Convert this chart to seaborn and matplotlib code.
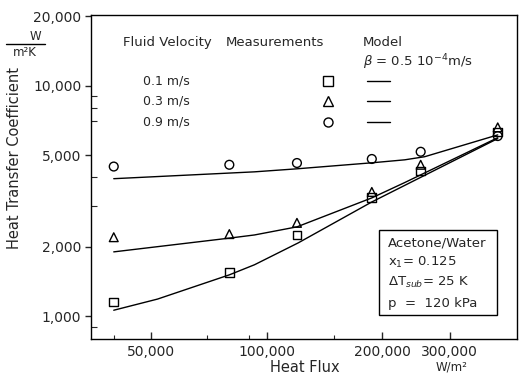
import numpy as np
import pandas as pd
import matplotlib
matplotlib.use('Agg')
import matplotlib.pyplot as plt
import matplotlib.ticker as mticker
from matplotlib.patches import Rectangle
from matplotlib.lines import Line2D
import seaborn as sns

# measurements (heat flux W/m2, heat transfer coefficient W/m2K)
meas_flux = [40000, 80000, 120000, 188000, 252000, 400000]
meas_01 = [1150, 1550, 2250, 3260, 4270, 6300]
meas_03 = [2200, 2270, 2540, 3460, 4540, 6600]
meas_09 = [4460, 4540, 4620, 4810, 5170, 6050]

# model curves
model_flux_01 = [40000, 52000, 80000, 93000, 121000, 188000, 254000, 400000]
model_01 = [1060, 1185, 1510, 1670, 2080, 3130, 4030, 5900]
model_flux_03 = [40000, 80000, 93000, 120000, 188000, 229000, 254000, 400000]
model_03 = [1900, 2180, 2250, 2440, 3260, 3800, 4130, 5950]
model_flux_09 = [40000, 93000, 120000, 188000, 229000, 258000, 400000]
model_09 = [3950, 4230, 4360, 4630, 4770, 4920, 6120]

velocities = ['0.1 m/s', '0.3 m/s', '0.9 m/s']
markers = ['s', '^', 'o']

x_ticks = [50000, 100000, 200000, 300000]
x_tick_labels = ['50,000', '100,000', '200,000', '300,000']
y_ticks = [1000, 2000, 5000, 10000, 20000]
y_tick_labels = ['1,000', '2,000', '5,000', '10,000', '20,000']

sns.set_style('white')
plt.rcParams['font.family'] = ['DejaVu Sans']

fig = plt.figure(figsize=(5.2, 3.77), dpi=100)
ax = fig.add_axes([91 / 520, 38 / 377, 426 / 520, 324 / 377])

meas = [meas_01, meas_03, meas_09]
models = [(model_flux_01, model_01), (model_flux_03, model_03), (model_flux_09, model_09)]

for vel, mk, ys, (mx, my) in zip(velocities, markers, meas, models):
    dm = pd.DataFrame({'flux': mx, 'htc': my})
    sns.lineplot(data=dm, x='flux', y='htc', ax=ax, color='black', linewidth=1.0,
                 estimator=None, sort=False)
    dd = pd.DataFrame({'flux': meas_flux, 'htc': ys})
    sns.scatterplot(data=dd, x='flux', y='htc', ax=ax, marker=mk, s=40,
                    color='none', edgecolor='black', linewidth=1.0, zorder=3)

ax.set_xscale('log')
ax.set_yscale('log')
ax.set_xlim(34900, 449000)
ax.set_ylim(795, 20300)

ax.xaxis.set_major_locator(mticker.FixedLocator(x_ticks))
ax.xaxis.set_major_formatter(mticker.FixedFormatter(x_tick_labels))
ax.xaxis.set_minor_locator(mticker.FixedLocator([40000, 70000, 90000, 150000]))
ax.xaxis.set_minor_formatter(mticker.NullFormatter())
ax.yaxis.set_major_locator(mticker.FixedLocator(y_ticks))
ax.yaxis.set_major_formatter(mticker.FixedFormatter(y_tick_labels))
ax.yaxis.set_minor_locator(mticker.FixedLocator([900, 3000, 4000, 7000, 8000, 9000]))
ax.yaxis.set_minor_formatter(mticker.NullFormatter())

ax.tick_params(axis='x', which='major', direction='in', length=5, width=1, pad=4,
               labelsize=10, bottom=True)
ax.tick_params(axis='x', which='minor', direction='in', length=3, width=0.8, bottom=True)
ax.tick_params(axis='y', which='major', direction='out', length=4, width=1, pad=3,
               labelsize=10, left=True)
ax.tick_params(axis='y', which='minor', direction='in', length=4, width=0.8, left=True)
ax.set_xlabel('')
ax.set_ylabel('')
for sp in ax.spines.values():
    sp.set_color('black')
    sp.set_linewidth(1.0)

# legend table
tr = ax.transAxes
ax.text(0.075, 0.914, 'Fluid Velocity', transform=tr, fontsize=9.5, va='center', ha='left')
ax.text(0.432, 0.914, 'Measurements', transform=tr, fontsize=9.5, va='center', ha='center')
ax.text(0.638, 0.914, 'Model', transform=tr, fontsize=9.5, va='center', ha='left')
ax.text(0.638, 0.855, r'$\beta$ = 0.5 10$^{-4}$m/s', transform=tr, fontsize=9.5,
        va='center', ha='left')
row_y = [0.796, 0.735, 0.670]
for vel, mk, ry in zip(velocities, markers, row_y):
    ax.text(0.122, ry, vel, transform=tr, fontsize=9, va='center', ha='left')
    ax.add_line(Line2D([0.556], [ry], transform=tr, marker=mk, markersize=6.5,
                       markerfacecolor='none', markeredgecolor='black', linestyle=''))
    ax.add_line(Line2D([0.648, 0.702], [ry, ry], transform=tr, color='black', linewidth=1.0))

# info box
ax.add_patch(Rectangle((0.676, 0.074), 0.277, 0.262, transform=tr, fill=False,
                       edgecolor='black', linewidth=1.0, zorder=4))
info = ['Acetone/Water', r'x$_1$= 0.125', r'$\Delta$T$_{sub}$= 25 K', 'p  =  120 kPa']
for txt, ty in zip(info, [0.296, 0.235, 0.173, 0.111]):
    ax.text(0.697, ty, txt, transform=tr, fontsize=9.5, va='center', ha='left')

# axis labels
fig.text(15 / 520, 1 - 158 / 377, 'Heat Transfer Coefficient', rotation=90,
         fontsize=10.5, va='center', ha='center')
fig.text(35 / 520, 1 - 36 / 377, 'W', fontsize=8.5, va='center', ha='center')
fig.add_artist(Line2D([6 / 520, 45 / 520], [1 - 44 / 377, 1 - 44 / 377],
                      transform=fig.transFigure, color='black', linewidth=1.0))
fig.text(25 / 520, 1 - 53 / 377, 'm²K', fontsize=8.5, va='center', ha='center')
fig.text(305 / 520, 1 - 368 / 377, 'Heat Flux', fontsize=10.5, va='center', ha='center')
fig.text(452 / 520, 1 - 367 / 377, 'W/m²', fontsize=8.5, va='center', ha='center')

fig.savefig('out.png', dpi=100)
